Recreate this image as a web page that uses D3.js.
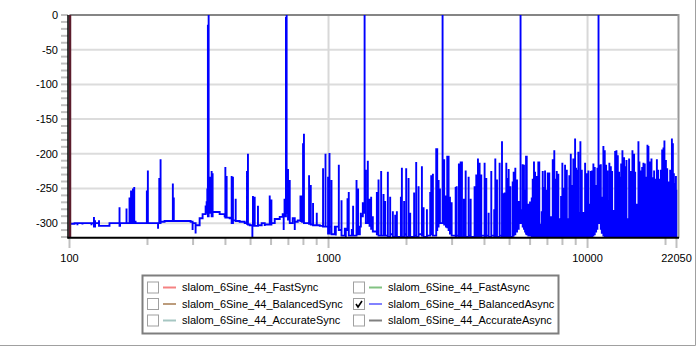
<!DOCTYPE html>
<html>
<head>
<meta charset="utf-8">
<script src="https://cdn.jsdelivr.net/npm/d3@7"></script>
<style>
  body { margin: 0; background: #fff; }
  svg { display: block; font-family: "Liberation Sans", Arial, sans-serif; font-size: 11px; }
</style>
</head>
<body>
<svg width="700" height="350"></svg>
<script>
// axes
const freqDomain = [100, 22050];
const dbDomain = [-320, 0];
const xLabels = [100, 1000, 10000, 22050];
const xMinor = [200, 300, 400, 500, 600, 700, 800, 900, 2000, 3000, 4000, 5000, 6000, 7000, 8000, 9000, 20000];
const xGrid = [1000, 10000];
const yLabels = [0, -50, -100, -150, -200, -250, -300];

// legend
const seriesNames = ['slalom_6Sine_44_FastSync', 'slalom_6Sine_44_BalancedSync', 'slalom_6Sine_44_AccurateSync',
  'slalom_6Sine_44_FastAsync', 'slalom_6Sine_44_BalancedAsync', 'slalom_6Sine_44_AccurateAsync'];
const seriesColors = ['#f58282', '#bc9c7c', '#a6c6c2', '#82c282', '#8282ff', '#808080'];
const seriesShown = [false, false, false, false, true, false];

// BalancedAsync spectrum: [Hz, level the trace jumps to, level it settles at]
const balancedAsync = [
  [100, -233, -301], [104.6, -300, -300], [107.3, -303, -300], [112.2, -302, -300], [117.4, -300, -300],
  [121.6, -303, -300], [124.3, -291, -305], [125.5, -296, -300], [130.0, -296, -304], [142.7, -300, -300],
  [156.0, -277, -304], [156.7, -300, -300], [166.0, -279, -300], [170.5, -263, -300], [172.8, -253, -298],
  [175.8, -250, -300], [177.8, -248, -298], [179.9, -300, -300], [197.5, -300, -300], [198.9, -253, -300],
  [200.7, -224, -300], [219.7, -308, -300], [222.1, -235, -300], [224.7, -208, -298], [232.8, -297, -297],
  [250.6, -243, -297], [252.7, -263, -297], [278.2, -297, -297], [293.5, -298, -298], [298.7, -310, -300],
  [306.8, -315, -303], [318.0, -293, -293], [326.5, -287, -287], [335.4, -276, -276], [338.4, -270, -270],
  [340.4, -250, -285], [342.2, -14, -290], [344.5, 0, -285], [349.8, -233, -285], [353.8, -225, -290],
  [356.9, -228, -284],
  [363.4, -284, -284], [379.9, -287, -287], [397.2, -290, -290], [399.7, -219, -292], [404.3, -232, -292],
  [415.3, -293, -293], [422.7, -232, -300], [427.6, -233, -296], [438.1, -265, -297], [453.9, -298, -298],
  [474.6, -300, -300], [484.4, -225, -301], [488.6, -200, -302], [496.2, -303, -303], [508.2, -320, -304],
  [510.8, -261, -304], [518.8, -262, -304], [534.1, -275, -303], [552.1, -300, -300], [567.1, -304, -302],
  [592.9, -260, -302], [601.9, -266, -300], [619.9, -294, -294], [648.1, -291, -291], [665.5, -287, -287],
  [671.2, -310, -290], [676.4, -265, -290], [684.9, -3, -285], [689.1, 0, -280], [697.6, -222, -295],
  [708.4, -238, -300],
  [727.4, -293, -293], [740.7, -310, -298], [760.6, -296, -296], [779.3, -260, -297], [790.4, -260, -298],
  [797.3, -185, -298], [803.8, -171, -300], [824.1, -300, -300], [841.2, -231, -301], [854.1, -245, -302],
  [871.5, -271, -303], [900.8, -285, -303], [925.3, -304, -304], [952.6, -221, -305], [973.5, -200, -305],
  [996.0, -233, -315], [1008.7, -199, -305], [1026.8, -238, -316], [1057.5, -305, -305], [1066.9, -318, -305],
  [1095.8, -216, -310], [1122.4, -267, -318], [1155.9, -308, -308], [1166.2, -320, -308], [1183.8, -264, -310],
  [1197.2, -255, -318], [1230.1, -310, -310], [1244.2, -275, -318], [1282.7, -238, -312], [1300.8, -250, -316],
  [1321.0, -305, -305], [1332.8, -285, -290], [1356.4, -270, -285], [1378.1, 0, -285],
  [1393.4, -223, -300], [1418.1, -210, -298], [1440.1, -265, -304], [1460.8, -262, -308], [1482.7, -290, -312],
  [1536.7, -255, -316], [1559.7, -237, -318], [1596.7, -225, -318], [1630.7, -258, -316], [1654.7, -268, -318],
  [1694.4, -226, -320], [1730.0, -262, -316], [1771.5, -283, -320], [1808.7, -288, -318], [1836.1, -283, -320],
  [1902.7, -262, -316], [1919.7, -220, -320], [1958.3, -268, -316], [1994.6, -221, -320], [2037.0, -235, -316],
  [2067.0, -285, -320], [2140.6, -256, -318], [2180.2, -212, -320], [2226.5, -247, -316], [2293.6, -218, -318],
  [2327.9, -277, -320], [2398.0, -280, -318], [2469.6, -255, -316], [2491.6, -231, -315], [2529.0, -229, -318],
  [2605.0, -192, -310], [2628.2, -192, -305], [2660.3, -238, -300], [2692.3, -250, -300], [2728.4, -300, -300],
  [2756.3, 0, -300],
  [2795.7, -208, -302], [2839.9, -260, -305], [2872.8, -203, -306], [2908.0, -203, -310], [2942.9, -262, -315],
  [2987.6, -270, -318], [3096.2, -248, -320], [3123.6, -247, -318], [3186.6, -214, -320], [3237.1, -211, -318],
  [3274.4, -211, -320], [3331.6, -265, -318], [3384.4, -224, -320], [3474.5, -233, -318], [3538.4, -265, -320],
  [3663.9, -247, -316], [3718.8, -230, -320], [3774.7, -207, -318], [3830.6, -213, -320], [3888.1, -230, -318],
  [4004.9, -213, -320], [4065.1, -235, -318], [4151.4, -285, -320], [4250.0, -225, -318], [4362.5, -280, -320],
  [4404.3, -207, -318], [4471.0, -237, -320], [4576.9, -213, -318], [4674.5, -182, -320], [4744.3, -257, -318],
  [4785.2, -256, -320], [4856.9, -213, -318], [4916.9, -235, -320], [4960.1, -222, -316], [5033.2, -247, -320],
  [5140.7, -240, -318], [5185.8, -226, -316], [5262.3, -220, -312], [5342.0, -237, -308], [5421.8, -268, -300],
  [5512.5, 0, -300],
  [5570, -280, -300], [5619, -215, -305], [5683, -216, -308], [5737, -252, -312], [5788, -203, -315],
  [5824, -203, -316], [5906, -272, -318], [5998, -269, -318], [6089, -263, -320], [6142, -236, -318],
  [6212, -211, -320], [6271, -226, -318], [6366, -232, -320], [6456, -211, -318], [6511, -211, -320],
  [6597, -301, -318], [6655, -283, -320], [6714, -225, -318], [6790, -248, -320], [6854, -224, -318],
  [6958, -252, -320], [7019, -227, -318], [7117, -227, -320], [7230, -290, -318], [7339, -208, -320],
  [7441, -195, -318], [7539, -236, -320], [7606, -225, -318], [7713, -229, -320], [7833, -293, -318],
  [7903, -261, -320], [7994, -213, -318], [8113, -249, -320], [8189, -216, -318], [8314, -223, -320],
  [8431, -293, -318], [8504, -231, -320], [8616, -200, -318], [8692, -245, -320], [8815, -207, -318],
  [8952, -178, -320], [9031, -220, -318], [9136, -223, -320], [9216, -197, -318], [9295, -284, -320],
  [9384, -182, -318], [9501, -223, -320], [9635, -284, -318], [9785, -213, -320], [9934, -228, -318],
  [10074, -224, -320], [10161, -272, -318], [10294, -225, -320], [10413, -224, -318], [10532, -214, -316],
  [10660, -219, -312], [10791, -245, -308], [10916, -220, -300], [11025, 0, -300],
  [11107, -216, -300], [11252, -215, -308], [11352, -262, -314], [11512, -189, -318], [11652, -195, -320],
  [11795, -216, -318], [11932, -224, -320], [12036, -267, -318], [12140, -213, -320], [12300, -218, -318],
  [12442, -225, -320], [12584, -281, -318], [12779, -196, -320], [12927, -195, -318], [13087, -202, -320],
  [13235, -226, -318], [13361, -233, -320], [13480, -214, -318], [13636, -195, -320], [13838, -205, -318],
  [14007, -218, -320], [14131, -209, -318], [14257, -293, -320], [14468, -207, -318], [14696, -225, -320],
  [14905, -195, -318], [15125, -200, -320], [15269, -226, -318], [15501, -272, -320], [15719, -182, -318],
  [15855, -211, -320], [16065, -224, -318], [16250, -219, -320], [16435, -213, -318], [16635, -214, -320],
  [16839, -233, -318], [17034, -187, -320], [17182, -189, -318], [17450, -211, -320], [17652, -207, -318],
  [17871, -234, -320], [18073, -224, -318], [18293, -236, -320], [18521, -208, -318], [18733, -223, -320],
  [18945, -236, -318], [19194, -223, -320], [19415, -194, -318], [19637, -191, -320], [19806, -181, -318],
  [20068, -209, -320], [20299, -221, -318], [20530, -240, -320], [20849, -223, -318], [21166, -178, -320],
  [21352, -185, -318], [21539, -228, -320], [21725, -242, -318], [21935, -232, -320], [22050, -252, -252]
];

const svg = d3.select('svg');
const plot = { left: 69.5, right: 676.5, top: 15, bottom: 237 };

const x = d3.scaleLog().domain(freqDomain).range([plot.left, plot.right]);
const y = d3.scaleLinear().domain(dbDomain).range([plot.bottom, plot.top]);

// frame around window
svg.append('line').attr('x1', 695.5).attr('x2', 695.5).attr('y1', 0).attr('y2', 345.5)
  .attr('stroke', '#a0a0a0');
svg.append('line').attr('x1', 0).attr('x2', 695.5).attr('y1', 345.5).attr('y2', 345.5)
  .attr('stroke', '#a0a0a0');

// horizontal grid
svg.append('g').selectAll('line')
  .data(yLabels.filter(d => d !== 0))
  .join('line')
  .attr('x1', plot.left).attr('x2', 677)
  .attr('y1', d => y(d)).attr('y2', d => y(d))
  .attr('stroke', '#dcdcdc').attr('stroke-width', 2);

// vertical grid
svg.append('g').selectAll('line')
  .data(xGrid)
  .join('line')
  .attr('x1', d => x(d)).attr('x2', d => x(d))
  .attr('y1', plot.top).attr('y2', plot.bottom)
  .attr('stroke', '#d8d8d8').attr('stroke-width', 2);

// top and right border
svg.append('line').attr('x1', plot.left).attr('x2', 679).attr('y1', y(0)).attr('y2', y(0))
  .attr('stroke', '#858585').attr('stroke-width', 2);
svg.append('line').attr('x1', 678.5).attr('x2', 678.5).attr('y1', plot.top - 1).attr('y2', plot.bottom + 1)
  .attr('stroke', '#999').attr('stroke-width', 2);

// y ticks every 10 dB
svg.append('g').selectAll('line')
  .data(d3.range(dbDomain[0], dbDomain[1] + 1, 10))
  .join('line')
  .attr('x1', 61).attr('x2', 68)
  .attr('y1', d => y(d)).attr('y2', d => y(d))
  .attr('stroke', '#c0c0c0').attr('stroke-width', 2);

svg.append('g').selectAll('text')
  .data(yLabels)
  .join('text')
  .attr('x', 58).attr('y', d => y(d))
  .attr('text-anchor', 'end').attr('dy', '0.35em')
  .attr('fill', '#000')
  .text(d => d);

// x ticks
svg.append('g').selectAll('line')
  .data(xMinor)
  .join('line')
  .attr('x1', d => x(d)).attr('x2', d => x(d))
  .attr('y1', 238).attr('y2', 245)
  .attr('stroke', '#c0c0c0').attr('stroke-width', 2);
svg.append('g').selectAll('line')
  .data(xLabels)
  .join('line')
  .attr('x1', d => x(d)).attr('x2', d => x(d))
  .attr('y1', 238).attr('y2', 248)
  .attr('stroke', '#c0c0c0').attr('stroke-width', 2);

svg.append('g').selectAll('text')
  .data(xLabels)
  .join('text')
  .attr('x', d => x(d)).attr('y', 258)
  .attr('text-anchor', 'middle').attr('dy', '0.35em')
  .attr('fill', '#000')
  .text(d => d);

// spectrum trace
svg.append('clipPath').attr('id', 'clip')
  .append('rect').attr('x', plot.left).attr('y', plot.top - 1)
  .attr('width', plot.right - plot.left + 1).attr('height', plot.bottom - plot.top + 1);

const pts = [];
let prev = balancedAsync[0][1];
balancedAsync.forEach(([hz, jump, settle]) => {
  pts.push([hz, prev], [hz, jump], [hz, settle]);
  prev = settle;
});

const line = d3.line().x(d => x(d[0])).y(d => y(d[1]));

svg.append('path')
  .datum(pts)
  .attr('clip-path', 'url(#clip)')
  .attr('fill', 'none')
  .attr('stroke', '#0000ff')
  .attr('stroke-width', 1.9)
  .attr('d', line);

// dark edge at the start of the band
svg.append('line')
  .attr('x1', x(freqDomain[0]) + 0.5).attr('x2', x(freqDomain[0]) + 0.5)
  .attr('y1', y(dbDomain[1])).attr('y2', y(dbDomain[0]))
  .attr('stroke', '#5c1c2c').attr('stroke-width', 2.5);

// axes lines
svg.append('line').attr('x1', 68).attr('x2', 68).attr('y1', plot.top).attr('y2', 238.5)
  .attr('stroke', '#000').attr('stroke-width', 1.5);
svg.append('line').attr('x1', 67.5).attr('x2', 679).attr('y1', 237.8).attr('y2', 237.8)
  .attr('stroke', '#000').attr('stroke-width', 2);

// legend
const legend = svg.append('g');
legend.append('rect')
  .attr('x', 142.5).attr('y', 275.5).attr('width', 416).attr('height', 58)
  .attr('fill', '#fff').attr('stroke', '#7e7e7e').attr('stroke-width', 2);

const colX = [147, 353];
const rowY = [287.5, 304, 320.5];

const item = legend.selectAll('g.item')
  .data(seriesNames)
  .join('g')
  .attr('class', 'item')
  .attr('transform', (d, i) => `translate(${colX[Math.floor(i / 3)]},${rowY[i % 3]})`);

item.append('rect')
  .attr('x', 0.5).attr('y', -5.5).attr('width', 11).attr('height', 11)
  .attr('fill', '#fff').attr('stroke', '#a0a0a0');

item.filter((d, i) => seriesShown[i])
  .append('path')
  .attr('d', 'M3,0 L5,3 L9,-3')
  .attr('fill', 'none').attr('stroke', '#000').attr('stroke-width', 1.6);

item.append('line')
  .attr('x1', 16).attr('x2', 29).attr('y1', 0).attr('y2', 0)
  .attr('stroke', (d, i) => seriesColors[i]).attr('stroke-width', 2);

item.append('text')
  .attr('x', 35).attr('y', 0).attr('dy', '0.35em')
  .attr('fill', '#000')
  .text(d => d);
</script>
</body>
</html>
